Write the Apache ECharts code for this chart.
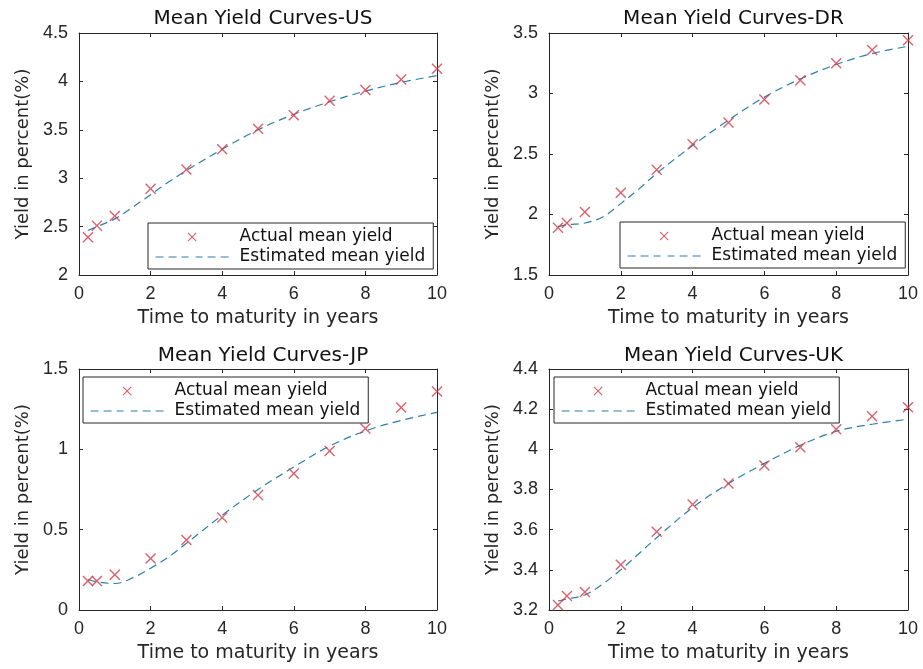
<!DOCTYPE html>
<html><head><meta charset="utf-8">
<script src="https://cdn.jsdelivr.net/npm/echarts@6/dist/echarts.min.js"></script>
<style>html,body{margin:0;padding:0;background:#fff}#c{width:923px;height:669px}</style>
</head><body><div id="c"></div>
<script>
// ---- data ----
const actualMaturities = [0.25, 0.5, 1, 2, 3, 4, 5, 6, 7, 8, 9, 10];
const fitMaturities = [0.25, 0.5, 1, 1.5, 2, 2.5, 3, 4, 5, 6, 7, 8, 9, 10];
const usActual = [2.39, 2.51, 2.61, 2.89, 3.09, 3.30, 3.51, 3.65, 3.80, 3.91, 4.02, 4.13];
const usFit    = [2.46, 2.50, 2.58, 2.70, 2.83, 2.96, 3.08, 3.30, 3.50, 3.66, 3.79, 3.90, 3.99, 4.06];
const drActual = [1.89, 1.93, 2.02, 2.18, 2.37, 2.58, 2.76, 2.95, 3.11, 3.25, 3.36, 3.44];
const drFit    = [1.90, 1.915, 1.93, 1.98, 2.09, 2.21, 2.34, 2.57, 2.78, 2.97, 3.12, 3.24, 3.33, 3.39];
const jpActual = [0.18, 0.18, 0.22, 0.32, 0.435, 0.575, 0.715, 0.85, 0.99, 1.13, 1.26, 1.36];
const jpFit    = [0.19, 0.175, 0.165, 0.20, 0.26, 0.33, 0.415, 0.59, 0.75, 0.89, 1.02, 1.115, 1.18, 1.23];
const ukActual = [3.225, 3.27, 3.29, 3.425, 3.59, 3.725, 3.83, 3.92, 4.01, 4.10, 4.165, 4.21];
const ukFit    = [3.245, 3.255, 3.275, 3.33, 3.40, 3.48, 3.56, 3.71, 3.83, 3.93, 4.02, 4.09, 4.125, 4.15];
const titles = ['Mean Yield Curves-US', 'Mean Yield Curves-DR', 'Mean Yield Curves-JP', 'Mean Yield Curves-UK'];
const xRange = [0, 10, 2];
const yRanges = [[2, 4.5, 0.5], [1.5, 3.5, 0.5], [0, 1.5, 0.5], [3.2, 4.4, 0.2]];
const actualSets = [usActual, drActual, jpActual, ukActual];
const fitSets = [usFit, drFit, jpFit, ukFit];
const actualName = 'Actual mean yield';
const fitName = 'Estimated mean yield';
const xName = 'Time to maturity in years';
const yName = 'Yield in percent(%)';

// ---- layout / style ----
const grids = [
  {left: 79, top: 33, width: 358, height: 242},
  {left: 549, top: 33, width: 359, height: 242},
  {left: 79, top: 369, width: 358, height: 241},
  {left: 549, top: 369, width: 359, height: 241}
];
const legendPos = [{left: 148, top: 223}, {left: 620, top: 222}, {left: 83, top: 377}, {left: 554, top: 377}];
const titleTops = [4, 4, 341, 341];
const AX = '#262626';
const RED = '#d33a48';
const BLUE = '#2a7fa9';
const XPATH = 'path://M0.9,0 L5,4.1 L9.1,0 L10,0.9 L5.9,5 L10,9.1 L9.1,10 L5,5.9 L0.9,10 L0,9.1 L4.1,5 L0,0.9 Z';
const labelFont = {fontFamily: 'Liberation Sans', fontSize: 18, color: AX};
const xNameFont = {fontFamily: 'DejaVu Sans', fontSize: 19, color: AX};
const yNameFont = {fontFamily: 'DejaVu Sans', fontSize: 18, color: AX};
const dash = [8, 5];

const option = {
  animation: false,
  backgroundColor: '#fff',
  title: [], grid: grids, xAxis: [], yAxis: [], legend: [], series: []
};

for (let i = 0; i < 4; i++) {
  const g = grids[i];
  const [ymin, ymax, yint] = yRanges[i];
  option.title.push({
    text: titles[i], left: g.left + g.width / 2, top: titleTops[i], textAlign: 'center',
    textStyle: {fontFamily: 'DejaVu Sans', fontSize: 20, fontWeight: 'normal', color: '#111'}
  });
  const axLine = {show: true, onZero: false, lineStyle: {color: AX, width: 1}};
  const tick = {show: true, inside: true, length: 4, lineStyle: {color: AX}};
  option.xAxis.push({
    type: 'value', gridIndex: i, min: xRange[0], max: xRange[1], interval: xRange[2], position: 'bottom',
    axisLine: axLine, axisTick: tick, splitLine: {show: false},
    axisLabel: Object.assign({margin: 10}, labelFont),
    name: xName, nameLocation: 'middle', nameGap: 34, nameTextStyle: xNameFont
  });
  option.yAxis.push({
    type: 'value', gridIndex: i, min: ymin, max: ymax, interval: yint, position: 'left',
    axisLine: axLine, axisTick: tick, splitLine: {show: false},
    axisLabel: Object.assign({margin: 11, formatter: v => String(Math.round(v * 10) / 10)}, labelFont),
    name: yName, nameLocation: 'middle', nameGap: 47, nameTextStyle: yNameFont
  });
}
for (let i = 0; i < 4; i++) {
  const [ymin, ymax, yint] = yRanges[i];
  const axLine = {show: true, onZero: false, lineStyle: {color: AX, width: 1}};
  const tick = {show: true, inside: true, length: 4, lineStyle: {color: AX}};
  option.xAxis.push({
    type: 'value', gridIndex: i, min: xRange[0], max: xRange[1], interval: xRange[2], position: 'top',
    axisLine: axLine, axisTick: tick, splitLine: {show: false}, axisLabel: {show: false}
  });
  option.yAxis.push({
    type: 'value', gridIndex: i, min: ymin, max: ymax, interval: yint, position: 'right',
    axisLine: axLine, axisTick: tick, splitLine: {show: false}, axisLabel: {show: false}
  });
}
for (let i = 0; i < 4; i++) {
  option.series.push({
    name: actualName, type: 'scatter', xAxisIndex: i, yAxisIndex: i,
    symbol: XPATH, symbolSize: 11, itemStyle: {color: RED},
    data: actualMaturities.map((m, k) => [m, actualSets[i][k]]), z: 3
  });
  option.series.push({
    name: fitName, type: 'line', xAxisIndex: i, yAxisIndex: i,
    showSymbol: false, smooth: 0.35,
    lineStyle: {color: BLUE, width: 1.2, type: dash},
    itemStyle: {color: BLUE},
    data: fitMaturities.map((m, k) => [m, fitSets[i][k]]), z: 2
  });
  option.legend.push({
    left: legendPos[i].left, top: legendPos[i].top, orient: 'vertical',
    backgroundColor: '#fff', borderColor: AX, borderWidth: 1, borderRadius: 0,
    padding: [4, 8, 2, 7], itemGap: 0, itemWidth: 73, itemHeight: 9,
    selectedMode: false,
    textStyle: {fontFamily: 'DejaVu Sans', fontSize: 17, color: '#111', lineHeight: 20, padding: [0, 0, 0, 6]},
    data: [
      {name: actualName, icon: XPATH},
      {name: fitName, itemStyle: {color: 'rgba(0,0,0,0)', borderWidth: 0},
       lineStyle: {color: BLUE, width: 1.2, type: dash, opacity: 1}}
    ]
  });
}

const chart = echarts.init(document.getElementById('c'), null, {renderer: 'canvas'});
chart.setOption(option);
</script>
</body></html>
